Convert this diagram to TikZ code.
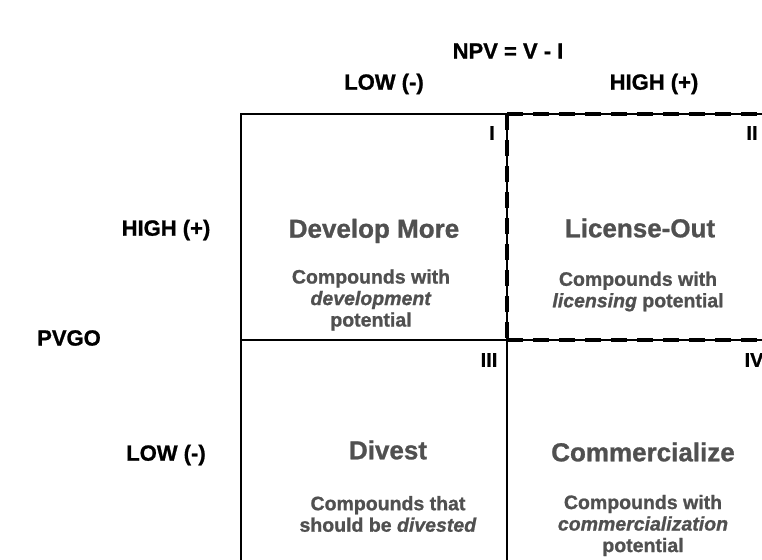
\documentclass[tikz,border=0pt]{standalone}
\usepackage{fontspec}
\setmainfont{Liberation Sans}[BoldFeatures={FakeBold=1},BoldItalicFeatures={FakeBold=1}]
\definecolor{qgray}{RGB}{80,80,80}
\begin{document}
\begin{tikzpicture}[x=1pt,y=-1pt,
 lab/.style={font=\fontsize{22}{26}\selectfont\bfseries, text=black, inner sep=0},
 ttl/.style={font=\fontsize{26}{30}\selectfont\bfseries, text=qgray, inner sep=0},
 dsc/.style={font=\fontsize{19.5}{21.5}\selectfont\bfseries, text=qgray, align=center, inner sep=0},
 num/.style={font=\fontsize{20}{24}\selectfont\bfseries, text=black, inner sep=0},
 gridline/.style={line width=1.6pt},
 sel/.style={line width=4pt, dash pattern=on 16pt off 10pt}]
\useasboundingbox (0,0) rectangle (762,559);
\clip (0,0) rectangle (762,559);
\fill[white] (0,0) rectangle (762,559);
% grid
\coordinate (tl) at (241,114);
\coordinate (tm) at (507,114);
\coordinate (tr) at (775,114);
\coordinate (ml) at (241,340);
\coordinate (mm) at (507,340);
\coordinate (mr) at (775,340);
\coordinate (bl) at (241,570);
\coordinate (bm) at (507,570);
\draw[gridline] (bl) -- (tl) -- (tr);
\draw[gridline] (ml) -- (mr);
\draw[gridline] (tm) -- (bm);
% selected quadrant
\draw[sel] (tm) -- (mm);
\draw[sel] (tm) -- (tr);
\draw[sel] (mm) -- (mr);
% axis labels
\node[lab] (npv) at (508,51) {NPV = V - I};
\node[lab] (clow) at (384,84) {LOW (-)};
\node[lab] (chigh) at (654,84) {HIGH (+)};
\node[lab] (rhigh) at (166,230) {HIGH (+)};
\node[lab] (pvgo) at (69,338) {PVGO};
\node[lab] (rlow) at (166,455) {LOW (-)};
% numerals
\node[num] (n1) at (492,133) {I};
\node[num] (n2) at (752,133) {II};
\node[num] (n3) at (489,360) {III};
\node[num] (n4) at (754,360) {IV};
% quadrant texts
\node[ttl] (t1) at (374,231) {Develop More};
\node[dsc] (d1) at (371,300) {Compounds with\\\textit{development}\\potential};
\node[ttl] (t2) at (640,228) {License-Out};
\node[dsc] (d2) at (638,291.5) {Compounds with\\\textit{licensing} potential};
\node[ttl] (t3) at (388,450) {Divest};
\node[dsc] (d3) at (388,514) {Compounds that\\should be \textit{divested}};
\node[ttl] (t4) at (643,452) {Commercialize};
\node[dsc] (d4) at (643,525.5) {Compounds with\\\textit{commercialization}\\potential};
\end{tikzpicture}
\end{document}
